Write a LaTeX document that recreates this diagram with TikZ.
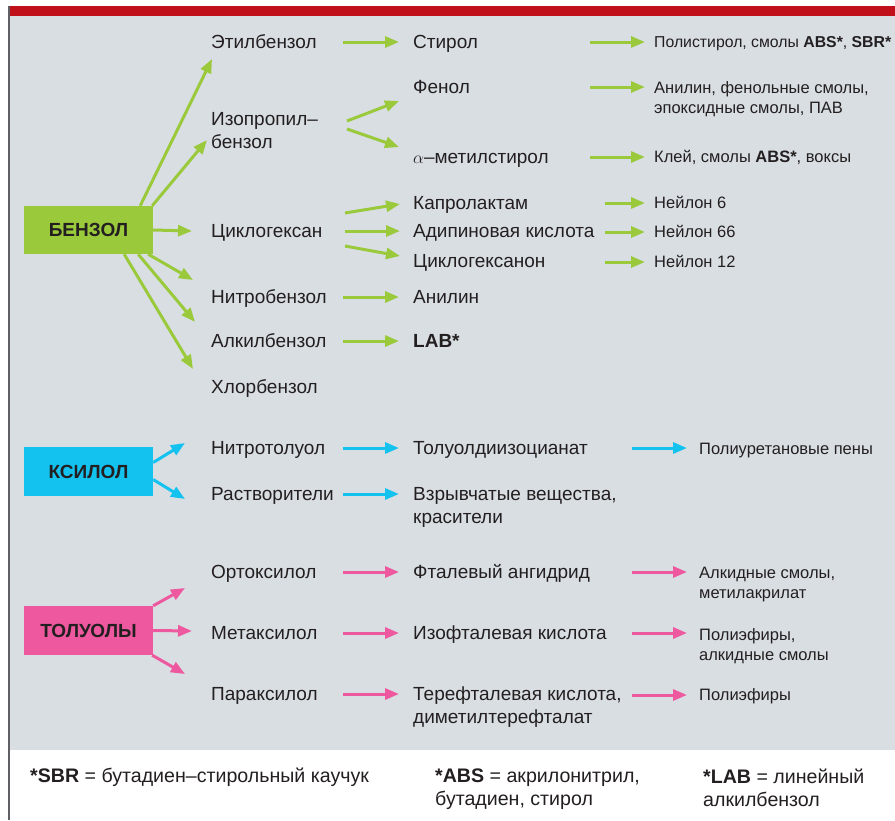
\documentclass[tikz,border=0pt]{standalone}
\usepackage{fontspec}
\setmainfont{Liberation Sans}
\usetikzlibrary{arrows.meta, calc}

\definecolor{panel}{RGB}{217,222,227}
\definecolor{topbar}{RGB}{192,16,26}
\definecolor{frame}{RGB}{95,95,100}
\definecolor{ink}{RGB}{35,31,32}
\definecolor{bgreen}{RGB}{154,202,60}
\definecolor{bcyan}{RGB}{20,194,240}
\definecolor{bpink}{RGB}{238,88,158}

\begin{document}
\begin{tikzpicture}[
  x=1pt, y=-1pt,
  >={Triangle[length=14pt, width=11pt]},
  lbl/.style={anchor=west, inner sep=0pt, text height=13.7pt, text depth=0pt,
    font=\fontsize{19}{23}\selectfont, text=ink},
  lbls/.style={lbl, text height=11.9pt, font=\fontsize{16.5}{20}\selectfont},
  lblm/.style={anchor=north west, inner sep=0pt, align=left,
    font=\fontsize{19}{23}\selectfont, text=ink},
  lblms/.style={lblm, font=\fontsize{16.5}{20}\selectfont},
  note/.style={font=\fontsize{19.6}{23}\selectfont},
  srcbox/.style={minimum width=129pt, minimum height=48pt, inner sep=0pt,
    font=\fontsize{19}{23}\selectfont\bfseries, text=ink},
  garr/.style={->, line width=3pt, draw=bgreen, fill=bgreen},
  carr/.style={->, line width=3pt, draw=bcyan, fill=bcyan},
  parr/.style={->, line width=3pt, draw=bpink, fill=bpink},
]
  % frame
  \useasboundingbox (0,0) rectangle (895,820);
  \fill[white] (0,0) rectangle (895,820);
  \fill[panel] (10,16) rectangle (895,750);
  \fill[topbar] (8,6) rectangle (895,16);
  \fill[frame] (8,6) rectangle (10,820);

  % sources
  \node[srcbox, fill=bgreen] (benz) at (88.5,230) {БЕНЗОЛ};
  \node[srcbox, fill=bcyan, minimum height=49pt] (ksil) at (88.5,471.5) {КСИЛОЛ};
  \node[srcbox, fill=bpink, minimum height=49pt] (tol) at (88.5,630.5) {ТОЛУОЛЫ};

  % first column
  \node[lbl] (etb) at (211,42) {Этилбензол};
  \node[lblm] (izo) at (211,112) {Изопропил–\\бензол};
  \node[lbl] (cyc) at (211,231) {Циклогексан};
  \node[lbl] (nbz) at (211,297) {Нитробензол};
  \node[lbl] (abz) at (211,341) {Алкилбензол};
  \node[lbl] (cbz) at (211,387) {Хлорбензол};
  \node[lbl] (ntl) at (211,448) {Нитротолуол};
  \node[lbl] (rst) at (211,494) {Растворители};
  \node[lbl] (oxy) at (211,572) {Ортоксилол};
  \node[lbl] (mxy) at (211,633) {Метаксилол};
  \node[lbl] (pxy) at (211,694) {Параксилол};

  % second column
  \node[lbl] (sty) at (413,42) {Стирол};
  \node[lbl] (phe) at (413,87) {Фенол};
  \node[lbl] (ams) at (413,157) {$\alpha$–метилстирол};
  \node[lbl] (cpl) at (413,203) {Капролактам};
  \node[lbl] (adp) at (413,231) {Адипиновая кислота};
  \node[lbl] (chn) at (413,261) {Циклогексанон};
  \node[lbl] (anl) at (413,297) {Анилин};
  \node[lbl] (lab) at (413,341) {\textbf{LAB*}};
  \node[lbl] (tdi) at (413,448) {Толуолдиизоцианат};
  \node[lblm] (exp) at (413,487) {Взрывчатые вещества,\\красители};
  \node[lbl] (pha) at (413,572) {Фталевый ангидрид};
  \node[lbl] (ipa) at (413,633) {Изофталевая кислота};
  \node[lblm] (tpa) at (413,687) {Терефталевая кислота,\\диметилтерефталат};

  % third column
  \node[lbls, font=\fontsize{15.8}{20}\selectfont] (pst) at (654,42)
    {Полистирол, смолы \textbf{ABS*}, \textbf{SBR*}};
  \node[lblms] (phr) at (654,81) {Анилин, фенольные смолы,\\эпоксидные смолы, ПАВ};
  \node[lbls] (glu) at (654,157) {Клей, смолы \textbf{ABS*}, воксы};
  \node[lbls] (ny6) at (654,203) {Нейлон 6};
  \node[lbls] (ny66) at (654,232) {Нейлон 66};
  \node[lbls] (ny12) at (654,262) {Нейлон 12};
  \node[lbls] (pur) at (699,449) {Полиуретановые пены};
  \node[lblms] (alk) at (699,567) {Алкидные смолы,\\метилакрилат};
  \node[lblms] (pes) at (699,628) {Полиэфиры,\\алкидные смолы};
  \node[lbls] (pe) at (699,695) {Полиэфиры};

  % footnotes
  \node[lbl, note] (fsbr) at (30,776) {\textbf{*SBR} = бутадиен–стирольный каучук};
  \node[lblm, note] (fabs) at (435,769) {\textbf{*ABS} = акрилонитрил,\\бутадиен, стирол};
  \node[lblm, note] (flab) at (703,769) {\textbf{*LAB} = линейный\\алкилбензол};

  \coordinate (s1) at (343,0);
  \coordinate (s2a) at (590,0);
  \coordinate (s2b) at (605,0);
  \coordinate (s2c) at (632,0);

  % benzene fan
  \draw[garr] ($(benz.north east)+(-13,0)$) -- ($(etb.west)+(1,17)$);
  \draw[garr] ($(benz.north east)+(-1,0)$) -- ($(izo.north west)+(-4,28)$);
  \draw[garr] (benz.east) -- ($(cyc.west)+(-19,0)$);
  \draw[garr] ($(benz.south east)+(-5,0)$) -- ($(nbz.west)+(-18,-17)$);
  \draw[garr] ($(benz.south east)+(-15,0)$) -- ($(abz.west)+(-16,-19)$);
  \draw[garr] ($(benz.south east)+(-29,0)$) -- ($(cbz.west)+(-18,-18)$);

  % xylene and toluene fans
  \draw[carr] ($(ksil.east)+(0,-9)$) -- ($(ntl.west)+(-26,-5)$);
  \draw[carr] ($(ksil.east)+(0,8)$) -- ($(rst.west)+(-26,5)$);
  \draw[parr] (tol.north east) -- ($(oxy.west)+(-26,16)$);
  \draw[parr] (tol.east) -- ($(mxy.west)+(-19,-2)$);
  \draw[parr] ($(tol.south east)+(-1,0)$) -- ($(pxy.west)+(-26,-20)$);

  % first to second column
  \foreach \a/\b/\c in {etb/sty/garr, nbz/anl/garr, abz/lab/garr,
      ntl/tdi/carr, rst/exp/carr, oxy/pha/parr, mxy/ipa/parr, pxy/tpa/parr}
    \draw[\c] (\a.east -| s1) -- ($(\a.east -| \b.west)+(-14,0)$);
  \draw[garr] ($(izo.north west)+(136,9)$) -- ($(phe.west)+(-14,14)$);
  \draw[garr] ($(izo.north west)+(136,17)$) -- ($(ams.west)+(-14,-10)$);
  \draw[garr] ($(cyc.west)+(134,-18)$) -- ($(cpl.west)+(-13,1)$);
  \draw[garr] ($(cyc.west)+(134,0)$) -- ($(adp.west)+(-13,0)$);
  \draw[garr] ($(cyc.west)+(134,15)$) -- ($(chn.west)+(-13,-5)$);

  % second to third column
  \foreach \a/\b in {sty/pst, phe/phr, ams/glu}
    \draw[garr] (\a.east -| s2a) -- ($(\a.east -| \b.west)+(-9,0)$);
  \foreach \a/\b in {cpl/ny6, adp/ny66, chn/ny12}
    \draw[garr] (\b.west -| s2b) -- ($(\b.west)+(-9,0)$);
  \draw[carr] (tdi.east -| s2c) -- ($(tdi.east -| pur.west)+(-12,0)$);
  \foreach \a/\b in {pha/alk, ipa/pes}
    \draw[parr] (\a.east -| s2c) -- ($(\a.east -| \b.west)+(-12,0)$);
  \draw[parr] (pe.west -| s2c) -- ($(pe.west)+(-12,0)$);
\end{tikzpicture}
\end{document}
